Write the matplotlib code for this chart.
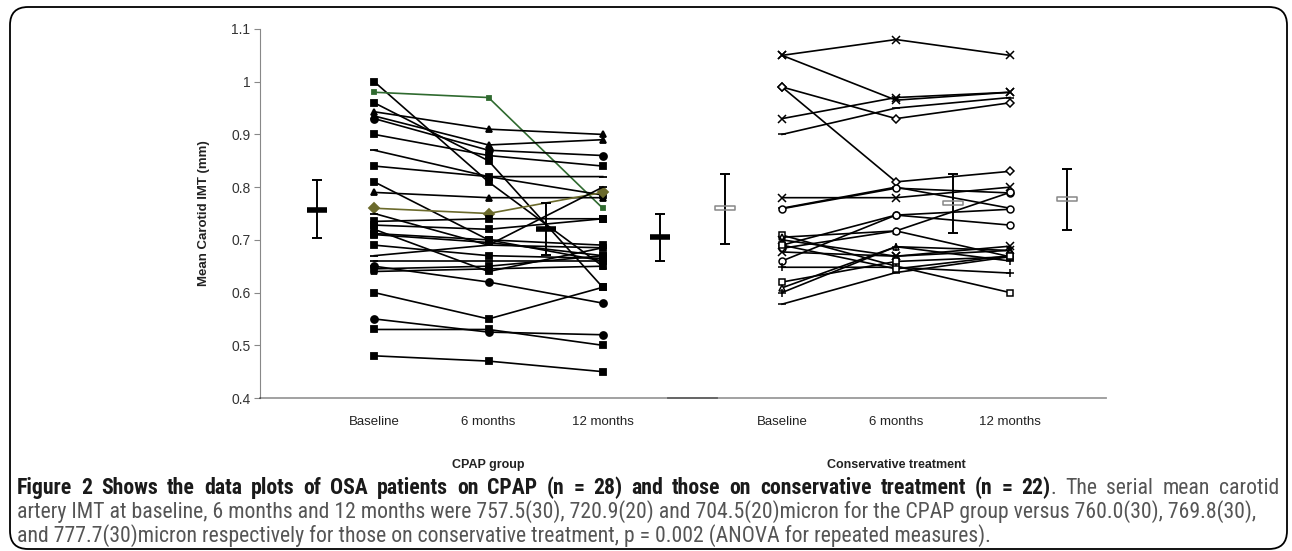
import matplotlib
matplotlib.use("Agg")
import matplotlib.pyplot as plt
from matplotlib.patches import FancyBboxPatch
from matplotlib.path import Path
from matplotlib.transforms import blended_transform_factory

# ---- data ----
time_labels = ["Baseline", "6 months", "12 months"]
y_ticks = [0.4, 0.5, 0.6, 0.7, 0.8, 0.9, 1.0, 1.1]
y_tick_labels = ["0.4", "0.5", "0.6", "0.7", "0.8", "0.9", "1", "1.1"]
group_labels = ["CPAP group", "Conservative treatment"]

# CPAP group, one row per patient: baseline, 6 months, 12 months
cpap_values = [
    [1.00, 0.81, 0.65],
    [0.98, 0.97, 0.76],
    [0.96, 0.85, 0.61],
    [0.943, 0.91, 0.90],
    [0.935, 0.88, 0.89],
    [0.93, 0.87, 0.86],
    [0.90, 0.86, 0.84],
    [0.87, 0.82, 0.82],
    [0.84, 0.82, 0.785],
    [0.81, 0.70, 0.66],
    [0.79, 0.78, 0.78],
    [0.76, 0.75, 0.79],
    [0.75, 0.69, 0.80],
    [0.735, 0.74, 0.74],
    [0.728, 0.72, 0.74],
    [0.712, 0.70, 0.69],
    [0.71, 0.695, 0.67],
    [0.69, 0.67, 0.665],
    [0.67, 0.69, 0.685],
    [0.66, 0.66, 0.66],
    [0.65, 0.62, 0.58],
    [0.64, 0.645, 0.65],
    [0.645, 0.65, 0.67],
    [0.72, 0.64, 0.685],
    [0.60, 0.55, 0.61],
    [0.55, 0.525, 0.52],
    [0.53, 0.53, 0.50],
    [0.48, 0.47, 0.45],
]

# conservative treatment group
cons_values = [
    [1.05, 1.08, 1.05],
    [1.05, 0.965, 0.98],
    [0.99, 0.93, 0.96],
    [0.99, 0.81, 0.83],
    [0.93, 0.97, 0.98],
    [0.90, 0.95, 0.97],
    [0.78, 0.78, 0.80],
    [0.76, 0.80, 0.76],
    [0.759, 0.798, 0.789],
    [0.709, 0.65, 0.60],
    [0.705, 0.717, 0.668],
    [0.69, 0.747, 0.728],
    [0.684, 0.717, 0.79],
    [0.677, 0.669, 0.688],
    [0.66, 0.747, 0.758],
    [0.648, 0.648, 0.637],
    [0.62, 0.659, 0.668],
    [0.609, 0.687, 0.68],
    [0.60, 0.687, 0.66],
    [0.578, 0.638, 0.668],
    [0.70, 0.669, 0.68],
    [0.69, 0.645, 0.67],
]

# group means with error bar limits (mm)
cpap_mean = [0.7575, 0.7209, 0.7045]
cpap_low = [0.703, 0.672, 0.660]
cpap_high = [0.813, 0.770, 0.749]
cons_mean = [0.760, 0.7698, 0.7777]
cons_low = [0.692, 0.713, 0.718]
cons_high = [0.825, 0.825, 0.834]

caption_bold = ("Figure 2 Shows the data plots of OSA patients on CPAP (n = 28) "
                "and those on conservative treatment (n = 22)")
caption_lines = [
    ". The serial mean carotid",
    "artery IMT at baseline, 6 months and 12 months were 757.5(30), 720.9(20) and "
    "704.5(20)micron for the CPAP group versus 760.0(30), 769.8(30),",
    "and 777.7(30)micron respectively for those on conservative treatment, "
    "p = 0.002 (ANOVA for repeated measures).",
]

# ---- styles ----
cpap_markers = ["s", "s", "s", "^", "^", "o", "s", "_", "s", "s", "^", "D", "_", "s",
                "s", "s", "s", "s", "_", "_", "o", "^", "s", "s", "s", "o", "s", "s"]
cpap_colors = ["black"] * len(cpap_values)
cpap_colors[1] = "#2f6a2f"
cpap_colors[11] = "#6b6a2c"
cons_markers = ["x", "x", "D", "D", "x", "_", "x", "_", "o", "s", "^", "o", "o", "x",
                "o", "+", "s", "^", "+", "_", "x", "s"]

plt.rcParams["font.family"] = ["Liberation Sans", "DejaVu Sans"]
caption_font = ["Roboto Condensed", "Asap Condensed", "DejaVu Sans"]
bold_col = "#1a1a1a"
reg_col = "#555555"

W, H = 1292, 551
fig = plt.figure(figsize=(W / 100, H / 100), dpi=100)

y0, y1 = 1 - 398 / H, 1 - 29 / H
ax = fig.add_axes([260 / W, y0, (717 - 260) / W, y1 - y0])
ax2 = fig.add_axes([668 / W, y0, (1106 - 668) / W, y1 - y0])

pt_x = [2, 4, 6]
mean_x = [1, 5, 7]
axis_col = (0, 0, 0, 0.4)

for a in (ax, ax2):
    a.set_ylim(0.4, 1.1)
    a.patch.set_visible(False)
    a.spines["top"].set_visible(False)
    a.spines["right"].set_visible(False)
    a.spines["bottom"].set_color(axis_col)
    a.spines["bottom"].set_linewidth(1.3)
    a.set_xticks(pt_x)
    a.set_xticklabels(time_labels)
    a.tick_params(axis="x", length=0, pad=13, labelsize=9.5, labelcolor="#222222")
ax.set_xlim(0, 8)
ax2.set_xlim(0, 438 / 57)
ax2.spines["left"].set_visible(False)
ax2.set_yticks([])

ax.spines["left"].set_color("#888888")
ax.set_yticks(y_ticks)
ax.set_yticklabels(y_tick_labels)
ax.tick_params(axis="y", length=4, color="#888888", labelsize=10,
               labelcolor="#333333", pad=3)

# CPAP patients
for vals, m, c in zip(cpap_values, cpap_markers, cpap_colors):
    ms = 5 if m != "_" else 6
    if c != "black" and m == "s":
        ms = 3
    ax.plot(pt_x, vals, color=c, lw=1.2, marker=m, ms=ms, mfc=c, mec=c,
            mew=1.3, zorder=3)

ax.errorbar(mean_x, cpap_mean,
            yerr=[[m - lo for m, lo in zip(cpap_mean, cpap_low)],
                  [hi - m for m, hi in zip(cpap_mean, cpap_high)]],
            fmt="none", ecolor="black", elinewidth=1.4, capsize=3.5, capthick=1.4,
            zorder=4)
ax.plot(mean_x, cpap_mean, ls="none", marker="_", ms=15, mew=4, color="black",
        zorder=5)

# conservative patients
for vals, m in zip(cons_values, cons_markers):
    ms = 6 if m in ("_", "+", "x") else 5
    if m == "D":
        ms = 4.5
    ax2.plot(pt_x, vals, color="black", lw=1.2, marker=m, ms=ms, mfc="white",
             mec="black", mew=1.1, zorder=3)

ax2.errorbar(mean_x, cons_mean,
             yerr=[[m - lo for m, lo in zip(cons_mean, cons_low)],
                   [hi - m for m, hi in zip(cons_mean, cons_high)]],
             fmt="none", ecolor="black", elinewidth=1.4, capsize=3.5, capthick=1.4,
             zorder=4)
rect_marker = Path([[-1, -0.22], [1, -0.22], [1, 0.22], [-1, 0.22], [-1, -0.22]],
                   closed=True)
ax2.plot(mean_x, cons_mean, ls="none", marker=rect_marker, ms=15, mew=1.1,
         mfc="none", mec="#888888", zorder=5)

# labels
fig.text(204 / W, 1 - 213 / H, "Mean Carotid IMT (mm)", rotation=90, ha="center",
         va="center", fontsize=9.5, fontweight="bold", color="#222222")
for a, lab in zip((ax, ax2), group_labels):
    tr = blended_transform_factory(a.transData, fig.transFigure)
    a.text(4, 1 - 465 / H, lab, transform=tr, ha="center", va="center",
           fontsize=9, fontweight="bold", color="#222222")

# outer frame
frame = FancyBboxPatch((10 / W, 1 - 549 / H), (1287 - 10) / W, (549 - 7) / H,
                       boxstyle="round,pad=0,rounding_size=0.014",
                       transform=fig.transFigure, fill=False, ec="black", lw=1.3,
                       mutation_aspect=W / H)
fig.patches.append(frame)

# caption: second line sets the font size, the first line is justified
x_left = 17
line_y = [1 - 488 / H, 1 - 512 / H, 1 - 536 / H]
r = fig.canvas.get_renderer()
fs = 12
mid = fig.text(x_left / W, line_y[1], caption_lines[1], fontsize=fs,
               family=caption_font, va="center", color=reg_col)
fs = fs * (1258 - x_left) / mid.get_window_extent(r).width
mid.set_fontsize(fs)
fig.text(x_left / W, line_y[2], caption_lines[2], fontsize=fs, family=caption_font,
         va="center", color=reg_col)


def justify(words, y, x_end):
    objs = []
    for word in words:
        objs.append([fig.text(0, y, s, fontsize=fs, family=caption_font,
                              fontweight=wt, color=col, va="center")
                     for s, wt, col in word])
    widths = [[t.get_window_extent(r).width for t in word] for word in objs]
    total = sum(sum(ws) for ws in widths)
    gap = (x_end - x_left - total) / (len(objs) - 1)
    x = x_left
    for word, ws in zip(objs, widths):
        for t, wd in zip(word, ws):
            t.set_x(x / W)
            x += wd
        x += gap


bold_words = caption_bold.split(" ")
reg_words = caption_lines[0].split(" ")
line1 = [[(b, "bold", bold_col)] for b in bold_words[:-1]]
line1.append([(bold_words[-1], "bold", bold_col), (reg_words[0], "normal", reg_col)])
line1 += [[(s, "normal", reg_col)] for s in reg_words[1:]]
justify(line1, line_y[0], 1279)

fig.savefig("out.png", dpi=100)
